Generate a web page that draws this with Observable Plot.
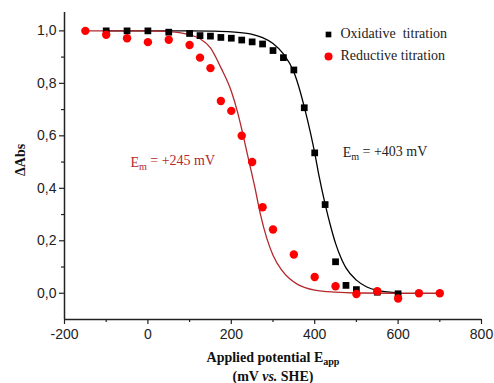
<!DOCTYPE html>
<html><head><meta charset="utf-8">
<script src="https://cdn.jsdelivr.net/npm/d3@7"></script>
<script src="https://cdn.jsdelivr.net/npm/@observablehq/plot@0.6"></script>
<style>html,body{margin:0;padding:0;background:#fff}svg{display:block}</style>
</head><body><div id="chart"></div>
<script>
// Oxidative titration (black squares)
const oxE = [-100,-50,0,50,100,125,150,175,200,225,250,275,300,325,350,375,400,425,450,475,500,550,600];
const oxA = [1.0,1.0,1.0,0.995,0.99,0.982,0.98,0.975,0.972,0.965,0.958,0.95,0.925,0.898,0.851,0.707,0.535,0.338,0.12,0.03,0.014,0.004,-0.002];
// Reductive titration (red circles)
const redE = [-150,-100,-50,0,50,100,125,150,175,200,225,250,275,300,350,400,450,500,550,600,650,700];
const redA = [1.0,0.985,0.972,0.957,0.966,0.946,0.898,0.858,0.733,0.695,0.60,0.50,0.328,0.243,0.148,0.062,0.027,-0.003,0.008,-0.02,0.0,0.0];
// Fitted curves
const oxFitE = [-100,0,100,150,200,250,275,300,325,350,365,375,390,400,410,425,440,450,465,475,500,525,550,575,600];
const oxFitA = [1.0,1.0,1.0,0.999,0.996,0.987,0.974,0.952,0.912,0.843,0.77,0.71,0.61,0.535,0.45,0.34,0.245,0.19,0.128,0.097,0.05,0.024,0.011,0.005,0.002];
const redFitE = [-150,-100,-50,0,50,100,125,150,175,200,215,225,235,245,255,270,285,300,320,340,360,400,450,500,600,700];
const redFitA = [1.0,1.0,1.0,1.0,0.997,0.985,0.97,0.935,0.86,0.77,0.69,0.625,0.555,0.485,0.415,0.30,0.21,0.145,0.09,0.055,0.033,0.012,0.004,0.001,0,0];
// Ticks
const xTicks = [-200,0,200,400,600,800];
const xMinor = [-100,100,300,500,700];
const yTicks = [0,0.2,0.4,0.6,0.8,1.0];
const yMinor = [0.1,0.3,0.5,0.7,0.9];
// Texts
const legendLabels = ["Oxidative  titration","Reductive titration"];
const emLabels = ["Em = +245 mV","Em = +403 mV"];
const xTitle = ["Applied potential Eapp","(mV vs. SHE)"];
const yTitle = "\u0394Abs";

const ox = oxE.map((E,i)=>({E, A: oxA[i]}));
const red = redE.map((E,i)=>({E, A: redA[i]}));
const oxFit = oxFitE.map((E,i)=>({E, A: oxFitA[i]}));
const redFit = redFitE.map((E,i)=>({E, A: redFitA[i]}));

const serif = "'Liberation Serif','Times New Roman',serif";
const darkRed = "#b3282d";

const svg = Plot.plot({
  width: 494, height: 383,
  marginLeft: 64, marginRight: 13, marginTop: 12, marginBottom: 64,
  x: {domain: [-200, 800]},
  y: {domain: [-0.1, 1.07]},
  style: {fontFamily: "'Liberation Sans', Arial, sans-serif", fontSize: "14px", color: "#222", background: "#fff"},
  marks: [
    Plot.axisX({ticks: xMinor, tickSize: 3, tickFormat: () => "", label: null, strokeWidth: 1.2}),
    Plot.axisX({ticks: xTicks, tickSize: 5, tickPadding: 5, tickFormat: d => String(d), label: null, fontSize: 14, strokeWidth: 1.2}),
    Plot.axisY({ticks: yMinor, tickSize: 3, tickFormat: () => "", label: null, strokeWidth: 1.2}),
    Plot.axisY({ticks: yTicks, tickSize: 5, tickPadding: 3, tickFormat: d => d.toFixed(1).replace(".", ","), label: null, fontSize: 14, strokeWidth: 1.2}),
    Plot.ruleX([-200], {strokeWidth: 1.5}),
    Plot.ruleY([-0.1], {strokeWidth: 1.5}),
    Plot.line(oxFit, {x: "E", y: "A", stroke: "#000", strokeWidth: 1.3, curve: "monotone-x"}),
    Plot.line(redFit, {x: "E", y: "A", stroke: darkRed, strokeWidth: 1.3, curve: "monotone-x"}),
    Plot.dot(ox, {x: "E", y: "A", symbol: "square", r: 3.8, fill: "#000", stroke: null}),
    Plot.dot(red, {x: "E", y: "A", r: 4.2, fill: "#f00", stroke: null}),
    // legend
    Plot.dot([0], {frameAnchor: "top-left", dx: 264, dy: 22, symbol: "square", r: 3.2, fill: "#000"}),
    Plot.dot([0], {frameAnchor: "top-left", dx: 264, dy: 44, r: 4, fill: "#f00"}),
    Plot.text([legendLabels[0]], {frameAnchor: "top-left", dx: 276, dy: 21, textAnchor: "start", lineAnchor: "middle", fontFamily: serif, fontSize: 14, fill: "#222"}),
    Plot.text([legendLabels[1]], {frameAnchor: "top-left", dx: 276, dy: 43, textAnchor: "start", lineAnchor: "middle", fontFamily: serif, fontSize: 14, fill: "#222"}),
    // annotations
    Plot.text([emLabels[0]], {x: -42, y: 0.5, textAnchor: "start", lineAnchor: "middle", fontFamily: serif, fontSize: 14, fill: darkRed}),
    Plot.text([emLabels[1]], {x: 467, y: 0.537, textAnchor: "start", lineAnchor: "middle", fontFamily: serif, fontSize: 14, fill: "#222"}),
    // axis titles
    Plot.text([xTitle[0]], {frameAnchor: "bottom", dy: 38, lineAnchor: "middle", fontFamily: serif, fontSize: 14, fontWeight: "bold", fill: "#111"}),
    Plot.text([xTitle[1]], {frameAnchor: "bottom", dy: 57, lineAnchor: "middle", fontFamily: serif, fontSize: 14, fontWeight: "bold", fill: "#111"}),
    Plot.text([yTitle], {frameAnchor: "left", dx: -44, dy: 10, rotate: -90, lineAnchor: "middle", fontFamily: serif, fontSize: 14, fontWeight: "bold", fill: "#111"})
  ]
});

// Rich text: subscripts and italics
d3.select(svg).selectAll("text").each(function() {
  const s = this.textContent;
  const t = d3.select(this);
  if (s.startsWith("Em = ")) {
    t.text(null);
    t.append("tspan").text("E");
    t.append("tspan").attr("font-size", "0.72em").attr("dy", "0.3em").text("m");
    t.append("tspan").attr("dy", "-0.3em").text(" " + s.slice(3));
  } else if (s === xTitle[0]) {
    t.text(null);
    t.append("tspan").text("Applied potential E");
    t.append("tspan").attr("font-size", "0.72em").attr("dy", "0.3em").text("app");
  } else if (s === xTitle[1]) {
    t.text(null);
    t.append("tspan").text("(mV ");
    t.append("tspan").attr("font-style", "italic").style("font-style", "italic").text("vs.");
    t.append("tspan").text(" SHE)");
  }
});
document.getElementById("chart").appendChild(svg);
</script>
</body></html>
